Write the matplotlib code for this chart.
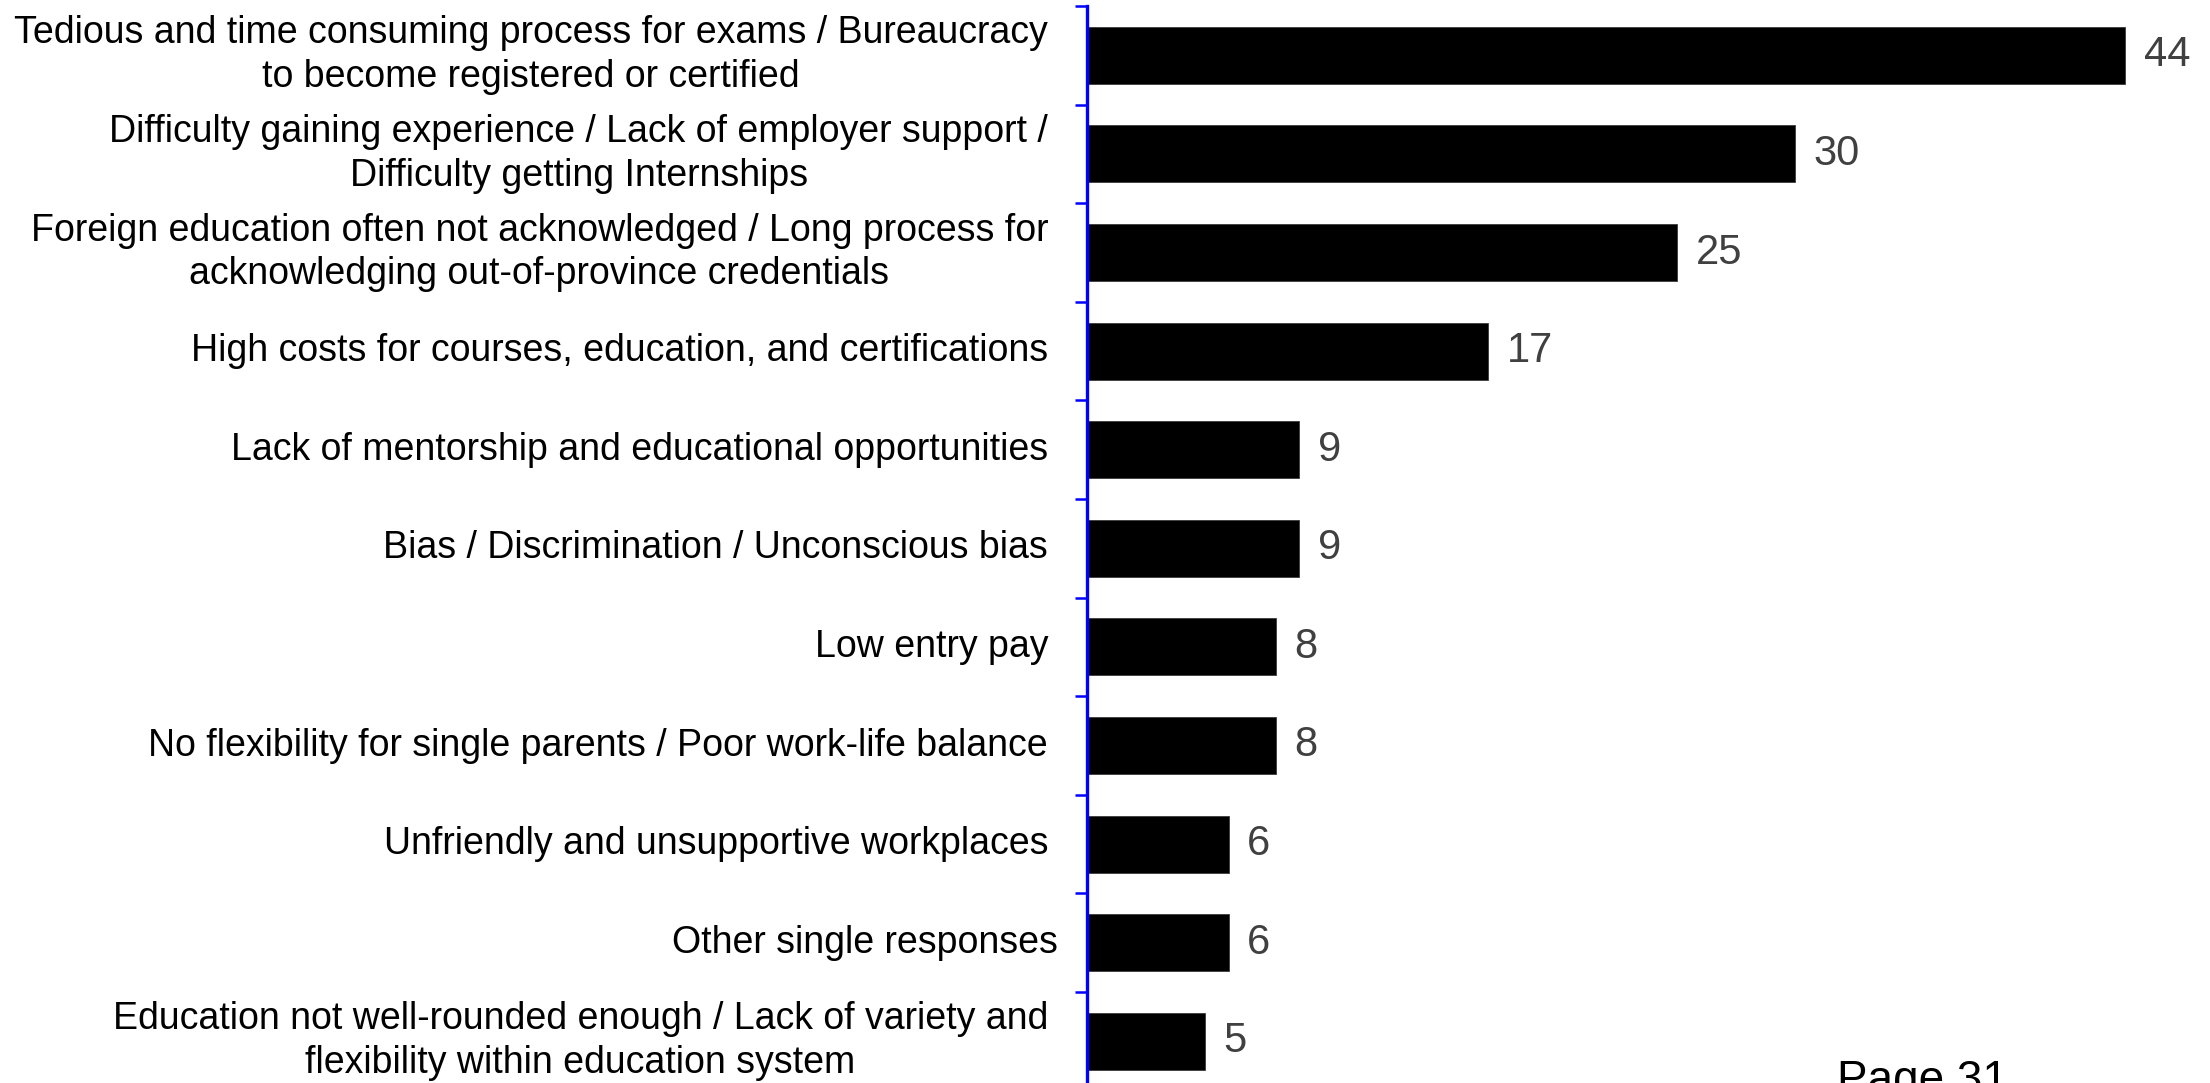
import matplotlib
matplotlib.use("Agg")
import matplotlib.pyplot as plt

# Barriers to entering the profession (number of mentions)
categories = [
    "Tedious and time consuming process for exams / Bureaucracy\nto become registered or certified",
    "Difficulty gaining experience / Lack of employer support /\nDifficulty getting Internships",
    "Foreign education often not acknowledged / Long process for\nacknowledging out-of-province credentials",
    "High costs for courses, education, and certifications",
    "Lack of mentorship and educational opportunities",
    "Bias / Discrimination / Unconscious bias",
    "Low entry pay",
    "No flexibility for single parents / Poor work-life balance",
    "Unfriendly and unsupportive workplaces",
    "Other single responses",
    "Education not well-rounded enough / Lack of variety and\nflexibility within education system",
]
counts = [44, 30, 25, 17, 9, 9, 8, 8, 6, 6, 5]
page_label = "Page 31"

plt.rcParams['font.family'] = ['Liberation Sans', 'DejaVu Sans']

fig = plt.figure(figsize=(22.1, 10.83), dpi=100)
# axes runs a little past the bottom edge of the page
ax = fig.add_axes([1087 / 2210, -7.6 / 1083, 1109 / 2210, 1084.6 / 1083])

pos = list(range(len(categories)))
ax.barh(pos, counts, height=0.58, color="black", edgecolor="#3a3a3a", linewidth=0.6)

ax.set_xlim(0, 47)
ax.set_ylim(len(categories) - 0.5, -0.5)

for s in ["top", "right", "bottom"]:
    ax.spines[s].set_visible(False)
ax.spines["left"].set_color("#0000ff")
ax.spines["left"].set_linewidth(2.4)
ax.set_xticks([])

# tick marks between categories, labels drawn separately
ax.set_yticks([p - 0.5 for p in pos] + [len(pos) - 0.5])
ax.set_yticklabels([])
ax.tick_params(axis="y", direction="out", length=8.5, width=1.8, color="#0000ff")

for i, (lab, v) in enumerate(zip(categories, counts)):
    dx = -21 if lab == "Other single responses" else -28
    ax.annotate(lab, xy=(0, i), xycoords=("axes fraction", "data"),
                xytext=(dx, 0), textcoords="offset points",
                ha="right", va="center", multialignment="center",
                fontsize=27, linespacing=1.28, color="black")
    ax.annotate(str(v), xy=(v, i), xytext=(13.5, 0), textcoords="offset points",
                ha="left", va="center", fontsize=30, color="#404040")

fig.text(1837 / 2210, -10 / 1083, page_label, ha="left", va="baseline",
         fontsize=33, color="black")

fig.savefig("out.png", dpi=100)
